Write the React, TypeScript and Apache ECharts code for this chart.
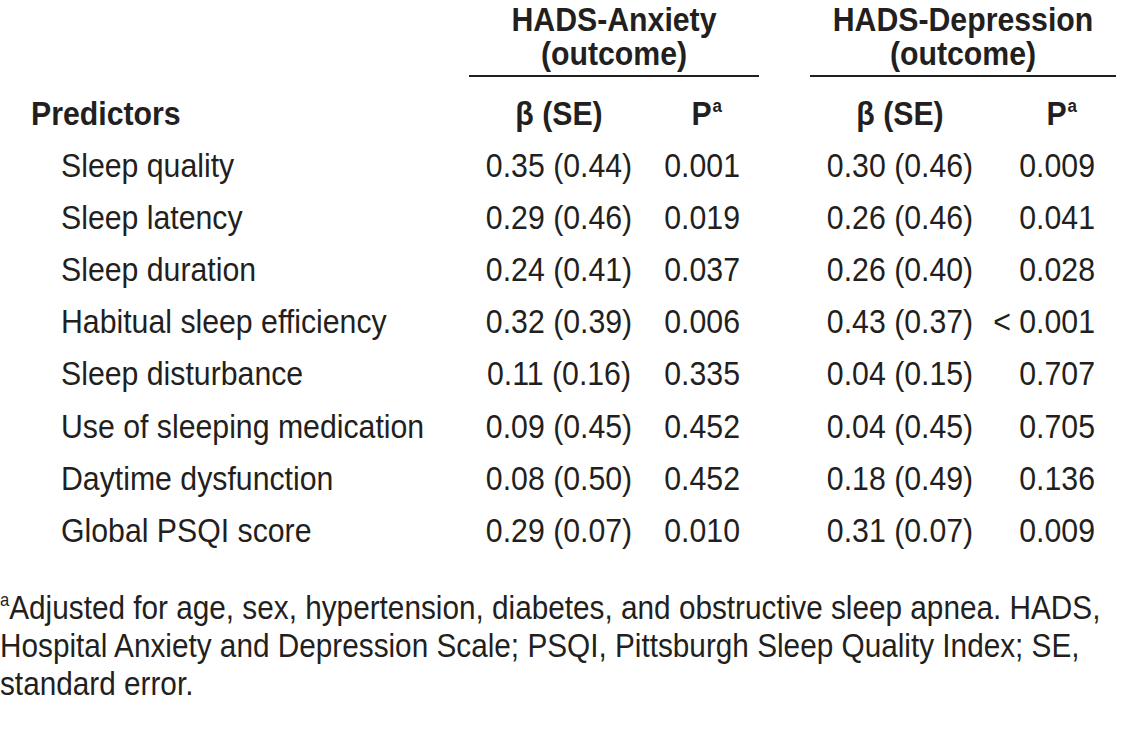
import React, { useEffect, useRef } from "react";
import * as echarts from "echarts";

const groups = ["HADS-Anxiety", "HADS-Depression"];
const groupSub = "(outcome)";
const predictors = [
  "Sleep quality",
  "Sleep latency",
  "Sleep duration",
  "Habitual sleep efficiency",
  "Sleep disturbance",
  "Use of sleeping medication",
  "Daytime dysfunction",
  "Global PSQI score",
];
const anxBeta = ["0.35 (0.44)", "0.29 (0.46)", "0.24 (0.41)", "0.32 (0.39)", "0.11 (0.16)", "0.09 (0.45)", "0.08 (0.50)", "0.29 (0.07)"];
const anxP = ["0.001", "0.019", "0.037", "0.006", "0.335", "0.452", "0.452", "0.010"];
const depBeta = ["0.30 (0.46)", "0.26 (0.46)", "0.26 (0.40)", "0.43 (0.37)", "0.04 (0.15)", "0.04 (0.45)", "0.18 (0.49)", "0.31 (0.07)"];
const depP = ["0.009", "0.041", "0.028", "< 0.001", "0.707", "0.705", "0.136", "0.009"];
const footLines = [
  "Adjusted for age, sex, hypertension, diabetes, and obstructive sleep apnea. HADS,",
  "Hospital Anxiety and Depression Scale; PSQI, Pittsburgh Sleep Quality Index; SE,",
  "standard error.",
];

const FONT = "'Liberation Sans', Arial, sans-serif";
const INK = "#231f20";
const SIZE = 34;
const SX = 0.89;

export default function App() {
  const ref = useRef<HTMLDivElement>(null);
  useEffect(() => {
    if (!ref.current) return;
    const chart = echarts.init(ref.current, null, { renderer: "svg" });
    const els: any[] = [];
    const txt = (text: string, x: number, y: number, align: string, bold = false, sx = SX) => {
      els.push({
        type: "text",
        x,
        y,
        scaleX: sx,
        style: {
          text,
          fill: INK,
          font: `${bold ? "bold " : ""}${SIZE}px ${FONT}`,
          textAlign: align,
          textVerticalAlign: "middle",
        },
      });
    };
    const groupCenters = [614, 963];
    const betaCenters = [559, 900];
    const pRight = [740, 1095];
    groups.forEach((g, i) => {
      txt(g, groupCenters[i], 19, "center", true);
      txt(groupSub, groupCenters[i], 53, "center", true);
    });
    els.push({ type: "line", shape: { x1: 469, y1: 76, x2: 759, y2: 76 }, style: { stroke: INK, lineWidth: 2 } });
    els.push({ type: "line", shape: { x1: 810, y1: 76, x2: 1116, y2: 76 }, style: { stroke: INK, lineWidth: 2 } });
    const hy = 113;
    txt("Predictors", 31, hy, "left", true);
    [0, 1].forEach((i) => {
      txt("β (SE)", betaCenters[i], hy, "center", true);
      els.push({
        type: "text",
        x: pRight[i] - 18,
        y: hy,
        scaleX: SX,
        style: {
          text: "{p|P}{a|a}",
          textAlign: "right",
          textVerticalAlign: "middle",
          rich: {
            p: { font: `bold ${SIZE}px ${FONT}`, fill: INK },
            a: { font: `bold 19px ${FONT}`, fill: INK, padding: [0, 0, 14, 1] },
          },
        },
      });
    });
    const rowY0 = 165;
    const rowStep = 52.2;
    predictors.forEach((p, r) => {
      const y = rowY0 + r * rowStep;
      txt(p, 61, y, "left");
      txt(anxBeta[r], betaCenters[0], y, "center");
      txt(anxP[r], pRight[0], y, "right");
      txt(depBeta[r], betaCenters[1], y, "center");
      txt(depP[r], pRight[1], y, "right");
    });
    const FSX = 0.875;
    footLines.forEach((l, i) => {
      const y = 607 + i * 38;
      if (i === 0) {
        els.push({
          type: "text",
          x: 0,
          y,
          scaleX: FSX,
          style: {
            text: `{a|a}{t|${l}}`,
            textAlign: "left",
            textVerticalAlign: "middle",
            rich: {
              a: { font: `19px ${FONT}`, fill: INK, padding: [0, 0, 14, 0] },
              t: { font: `${SIZE}px ${FONT}`, fill: INK },
            },
          },
        });
      } else {
        txt(l, 0, y, "left", false, FSX);
      }
    });
    chart.setOption({ animation: false, backgroundColor: "#ffffff", graphic: { elements: els } });
    return () => chart.dispose();
  }, []);
  return <div ref={ref} style={{ position: "fixed", left: 0, top: 0, width: 1133, height: 738 }} />;
}
